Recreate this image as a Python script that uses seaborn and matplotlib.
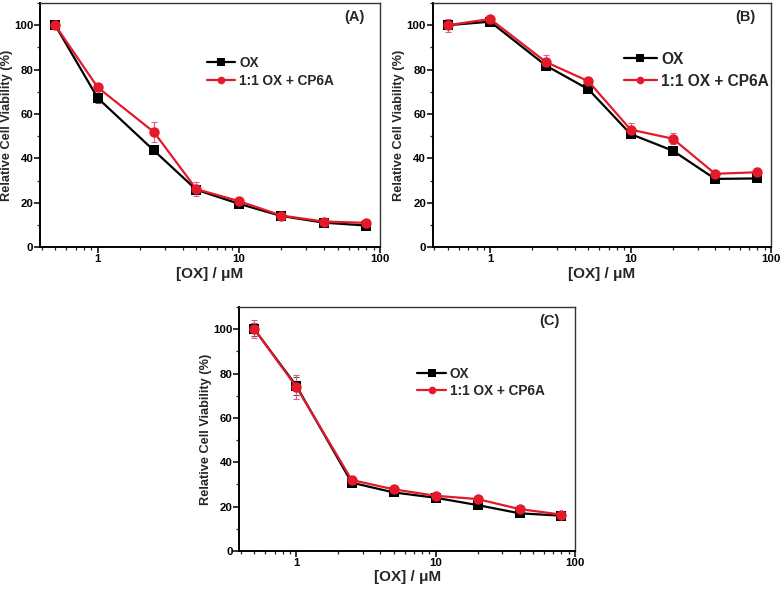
import numpy as np
import pandas as pd
import matplotlib
matplotlib.use("Agg")
import matplotlib.pyplot as plt
import matplotlib.ticker as mticker
import seaborn as sns

# ---- data ----
conc = [0.5, 1, 2.5, 5, 10, 20, 40, 80]
series_names = ["OX", "1:1 OX + CP6A"]
panel_labels = ["(A)", "(B)", "(C)"]

a_ox = [100, 67.2, 43.6, 25.9, 19.6, 14.1, 11.1, 9.8]
a_cp = [100, 72.0, 51.9, 26.2, 20.8, 14.3, 11.6, 11.0]
a_ox_err = [1.0, 2.4, 1.0, 1.5, 1.0, 0.8, 0.8, 0.8]
a_cp_err = [1.0, 1.2, 4.7, 3.0, 1.0, 0.8, 0.8, 0.8]

b_ox = [100, 101.6, 81.8, 71.2, 51.0, 43.5, 30.8, 31.0]
b_cp = [100, 102.8, 83.4, 74.8, 53.0, 48.9, 33.1, 33.8]
b_ox_err = [1.0, 1.0, 1.5, 1.0, 1.0, 1.0, 0.8, 0.8]
b_cp_err = [2.9, 1.0, 3.0, 1.5, 3.0, 2.5, 1.0, 1.0]

c_ox = [100, 74.5, 30.8, 26.4, 24.0, 20.7, 17.0, 15.9]
c_cp = [100, 74.0, 32.0, 27.8, 24.9, 23.4, 18.9, 16.4]
c_ox_err = [3.0, 4.0, 1.0, 1.0, 1.0, 1.0, 1.0, 1.0]
c_cp_err = [4.0, 5.5, 1.0, 1.0, 1.0, 1.0, 1.0, 1.0]

panels = [
    (a_ox, a_cp, a_ox_err, a_cp_err),
    (b_ox, b_cp, b_ox_err, b_cp_err),
    (c_ox, c_cp, c_ox_err, c_cp_err),
]

# ---- style ----
sns.set_theme(style="ticks")
plt.rcParams["font.family"] = ["Liberation Sans", "DejaVu Sans"]
plt.rcParams["font.weight"] = "bold"

RED = "#ff1f1f"
RED_LINE = "#e41a2a"
ERR_RED = "#d8608f"
BLACK = "#000000"

fig = plt.figure(figsize=(7.84, 5.91), dpi=100)
W, H = 784.0, 591.0

def rect(l, r, t, b):
    return [l / W, 1 - b / H, (r - l) / W, (b - t) / H]

axes_rects = [
    rect(40, 380, 3, 247.3),
    rect(432.7, 771, 3, 247.3),
    rect(239.3, 575, 307, 551),
]
# (x, y, fontsize, labelspacing)
legend_pos = [
    (0.49, 0.785, 9.8, 0.3),
    (0.565, 0.80, 11.2, 0.45),
    (0.53, 0.755, 9.8, 0.25),
]

for i, (ox, cp, oxe, cpe) in enumerate(panels):
    ax = fig.add_axes(axes_rects[i])
    df = pd.DataFrame({
        "conc": conc + conc,
        "val": ox + cp,
        "series": [series_names[0]] * len(conc) + [series_names[1]] * len(conc),
    })
    # error bars
    ax.errorbar(conc, ox, yerr=oxe, fmt="none", ecolor="#555555",
                elinewidth=0.8, capsize=2, capthick=0.8, zorder=2)
    ax.errorbar(conc, cp, yerr=cpe, fmt="none", ecolor=ERR_RED,
                elinewidth=0.8, capsize=2, capthick=0.8, zorder=2)
    sns.lineplot(data=df, x="conc", y="val", hue="series", style="series",
                 palette={series_names[0]: BLACK, series_names[1]: RED_LINE},
                 markers={series_names[0]: "s", series_names[1]: "o"},
                 dashes=False, markersize=7.5, linewidth=1.6,
                 markeredgewidth=0, ax=ax, zorder=3)
    ax.set_xscale("log")
    ax.set_xlim(0.39, 100)
    ax.set_ylim(0, 110)
    ax.set_yticks([0, 20, 40, 60, 80, 100])
    ax.yaxis.set_minor_locator(mticker.MultipleLocator(10))
    ax.xaxis.set_major_locator(mticker.LogLocator(base=10, numticks=10))
    ax.xaxis.set_major_formatter(mticker.FuncFormatter(lambda v, p: f"{v:g}"))
    ax.xaxis.set_minor_locator(mticker.LogLocator(base=10, subs=np.arange(2, 10), numticks=20))
    ax.xaxis.set_minor_formatter(mticker.NullFormatter())
    ax.tick_params(which="major", direction="out", length=4, width=1.1,
                   labelsize=8.2, pad=0.8, colors="black")
    ax.tick_params(which="minor", direction="out", length=2.5, width=0.9)
    for lab in ax.get_xticklabels() + ax.get_yticklabels():
        lab.set_fontweight("bold")
    for s in ["left", "bottom"]:
        ax.spines[s].set_linewidth(1.4)
        ax.spines[s].set_color("black")
    for s in ["top", "right"]:
        ax.spines[s].set_linewidth(1.0)
        ax.spines[s].set_color("#333333")
        ax.spines[s].set_visible(True)
    ax.set_xlabel("[OX] / μM", fontsize=11, fontweight="bold", labelpad=2)
    ax.set_ylabel("Relative Cell Viability (%)", fontsize=9.2,
                  fontweight="bold", labelpad=1.0)
    ax.text(0.955, 0.97, panel_labels[i], transform=ax.transAxes,
            ha="right", va="top", fontsize=10.5, fontweight="bold")
    lx, ly, fs, ls = legend_pos[i]
    leg = ax.legend(loc="upper left", bbox_to_anchor=(lx, ly), frameon=False,
                    handlelength=2.1, handletextpad=0.3,
                    borderpad=0, borderaxespad=0, labelspacing=ls,
                    prop={"weight": "bold", "size": fs})
    for h in leg.legend_handles:
        h.set_markersize(5.5)

fig.savefig("out.png", dpi=100)
